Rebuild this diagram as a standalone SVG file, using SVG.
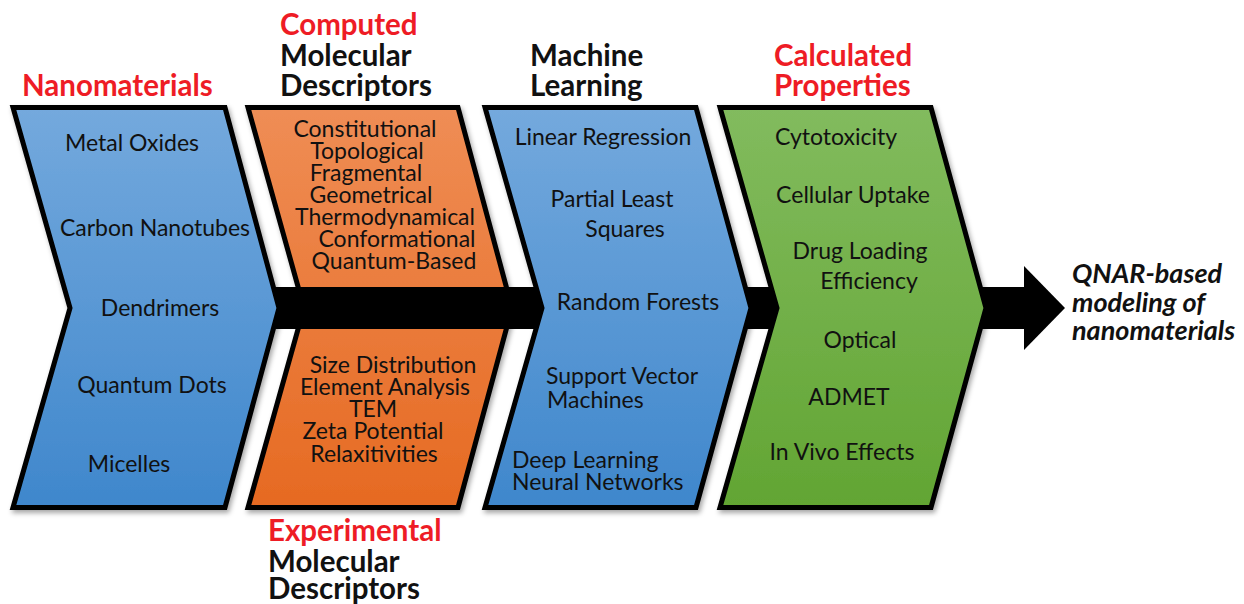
<svg xmlns="http://www.w3.org/2000/svg" width="1244" height="604" viewBox="0 0 1244 604">
<defs>
<linearGradient id="gBlue" x1="0" y1="0" x2="0" y2="1"><stop offset="0" stop-color="#74a9dd"/><stop offset="1" stop-color="#3f87cc"/></linearGradient>
<linearGradient id="gOrange" x1="0" y1="0" x2="0" y2="1"><stop offset="0" stop-color="#ef8d55"/><stop offset="1" stop-color="#e66a22"/></linearGradient>
<linearGradient id="gGreen" x1="0" y1="0" x2="0" y2="1"><stop offset="0" stop-color="#82bb5e"/><stop offset="1" stop-color="#62a533"/></linearGradient>
<filter id="sh" x="-5%" y="-5%" width="115%" height="115%"><feDropShadow dx="2" dy="3" stdDeviation="2.5" flood-color="#000" flood-opacity="0.35"/></filter>
</defs>
<style>
.shape{stroke:#000;stroke-width:5;stroke-linejoin:miter}
.t{font-family:Lato,"Open Sans",sans-serif;font-size:23px;fill:#111;text-anchor:middle}
.ts{font-family:Lato,"Open Sans",sans-serif;font-size:23px;fill:#111}
.h{font-family:Lato,"Open Sans",sans-serif;font-size:29.5px;font-weight:bold;fill:#111}
.r{fill:#ee1c25}
.q{font-family:Lato,"Open Sans",sans-serif;font-size:27px;font-weight:bold;font-style:italic;fill:#111}
</style>
<rect width="1244" height="604" fill="#fff"/>

<g id="node-descriptors">
<path class="shape" filter="url(#sh)" fill="url(#gOrange)" d="M248,107.5 L458,107.5 L512,308 L458,507.5 L248,507.5 L304,308 Z"/>
</g>

<g id="connectors">
<rect x="200" y="287" width="828" height="42" fill="#000"/>
<polygon points="1024,266 1065,308 1024,350" fill="#000"/>
</g>

<g id="node-nanomaterials">
<path class="shape" filter="url(#sh)" fill="url(#gBlue)" d="M13,107.5 L225,107.5 L279,308 L225,507.5 L13,507.5 L70,308 Z"/>
<text class="t" x="132" y="151">Metal Oxides</text>
<text class="t" x="155" y="236">Carbon Nanotubes</text>
<text class="t" x="160" y="316">Dendrimers</text>
<text class="t" x="152" y="393">Quantum Dots</text>
<text class="t" x="129" y="472">Micelles</text>
</g>

<g id="node-computed">
<text class="t" x="365" y="137">Constitutional</text>
<text class="t" x="367" y="159">Topological</text>
<text class="t" x="366" y="181">Fragmental</text>
<text class="t" x="371" y="203">Geometrical</text>
<text class="t" x="385" y="225">Thermodynamical</text>
<text class="t" x="397" y="247">Conformational</text>
<text class="t" x="394" y="269">Quantum-Based</text>
</g>

<g id="node-experimental">
<text class="t" x="393" y="373">Size Distribution</text>
<text class="t" x="385" y="395">Element Analysis</text>
<text class="t" x="373" y="417">TEM</text>
<text class="t" x="373" y="439">Zeta Potential</text>
<text class="t" x="374" y="462">Relaxitivities</text>
</g>

<g id="node-ml">
<path class="shape" filter="url(#sh)" fill="url(#gBlue)" d="M485,107.5 L696,107.5 L751,308 L696,507.5 L485,507.5 L542,308 Z"/>
<text class="t" x="603" y="145">Linear Regression</text>
<text class="t" x="612" y="207">Partial Least</text>
<text class="t" x="625" y="237">Squares</text>
<text class="t" x="638" y="310">Random Forests</text>
<text class="ts" x="546" y="384">Support Vector</text>
<text class="ts" x="547" y="408">Machines</text>
<text class="ts" x="512" y="468">Deep Learning</text>
<text class="ts" x="512" y="490">Neural Networks</text>
</g>

<g id="node-properties">
<path class="shape" filter="url(#sh)" fill="url(#gGreen)" d="M720,107.5 L931,107.5 L986,308 L931,507.5 L720,507.5 L777,308 Z"/>
<text class="t" x="836" y="145">Cytotoxicity</text>
<text class="t" x="853" y="203">Cellular Uptake</text>
<text class="t" x="860" y="259">Drug Loading</text>
<text class="t" x="869" y="289">Efficiency</text>
<text class="t" x="860" y="348">Optical</text>
<text class="t" x="849" y="405">ADMET</text>
<text class="t" x="842" y="460">In Vivo Effects</text>
</g>

<g id="titles">
<text class="h r" x="22" y="96">Nanomaterials</text>
<text class="h r" x="280" y="35">Computed</text>
<text class="h" x="280" y="66">Molecular</text>
<text class="h" x="280" y="96">Descriptors</text>
<text class="h" x="530" y="66">Machine</text>
<text class="h" x="530" y="96">Learning</text>
<text class="h r" x="774" y="66">Calculated</text>
<text class="h r" x="774" y="96">Properties</text>
<text class="h r" x="268" y="541">Experimental</text>
<text class="h" x="268" y="572">Molecular</text>
<text class="h" x="268" y="599">Descriptors</text>
</g>

<g id="node-output">
<text class="q" x="1072" y="283">QNAR-based</text>
<text class="q" x="1072" y="312">modeling of</text>
<text class="q" x="1072" y="340">nanomaterials</text>
</g>
</svg>
